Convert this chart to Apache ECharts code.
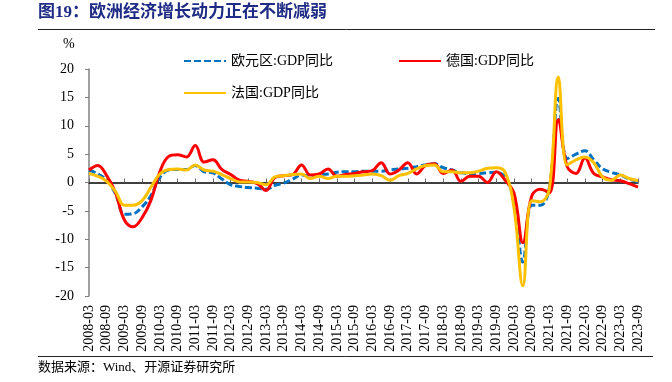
<!DOCTYPE html>
<html><head><meta charset="utf-8">
<script src="https://cdn.jsdelivr.net/npm/echarts@6/dist/echarts.min.js"></script>
<style>html,body{margin:0;padding:0;background:#fff}#c{width:672px;height:382px}</style>
</head><body><div id="c"></div>
<script>
const categories = ["2008-03","2008-06","2008-09","2008-12","2009-03","2009-06","2009-09","2009-12",
"2010-03","2010-06","2010-09","2010-12","2011-03","2011-06","2011-09","2011-12",
"2012-03","2012-06","2012-09","2012-12","2013-03","2013-06","2013-09","2013-12",
"2014-03","2014-06","2014-09","2014-12","2015-03","2015-06","2015-09","2015-12",
"2016-03","2016-06","2016-09","2016-12","2017-03","2017-06","2017-09","2017-12",
"2018-03","2018-06","2018-09","2018-12","2019-03","2019-06","2019-09","2019-12",
"2020-03","2020-06","2020-09","2020-12","2021-03","2021-06","2021-09","2021-12",
"2022-03","2022-06","2022-09","2022-12","2023-03","2023-06","2023-09"];

const euroArea = [2.2,1.5,0.4,-2.0,-5.6,-5.5,-4.3,-2.3,
0.9,2.2,2.3,2.3,3.0,1.9,1.7,0.6,
-0.4,-0.7,-0.9,-1.0,-1.2,-0.5,-0.1,0.6,
1.3,1.2,1.4,1.5,1.8,1.9,1.9,2.0,
2.0,2.0,2.2,2.4,2.5,2.8,3.1,3.3,
2.6,2.2,1.7,1.6,1.6,1.7,1.8,0.9,
-3.1,-14.0,-4.0,-4.0,-0.8,14.8,4.2,5.0,
5.6,4.0,2.4,1.8,1.3,0.6,0.1];

const germany = [2.2,3.0,1.2,-1.8,-6.6,-7.8,-6.2,-3.1,
1.9,4.6,4.9,4.5,6.5,3.6,4.0,2.3,
1.4,0.4,0.2,-0.2,-1.4,0.9,1.2,1.4,
3.1,1.3,1.5,2.4,1.1,1.4,1.6,1.9,
2.1,3.5,1.5,2.2,3.5,1.5,3.0,3.3,
1.6,2.2,0.2,1.1,1.1,0.0,1.9,0.4,
-1.9,-10.6,-2.4,-1.2,-1.8,11.1,2.8,1.6,
4.3,1.6,1.0,0.5,0.3,-0.2,-0.8];

const france = [1.6,1.1,0.2,-1.6,-4.0,-4.0,-3.2,-0.8,
1.5,2.3,2.4,2.2,3.1,2.2,2.0,1.4,
0.7,0.1,0.1,0.0,-0.4,1.0,1.2,1.4,
1.5,0.7,1.1,0.7,1.1,1.1,1.2,1.3,
1.5,1.2,0.4,1.2,1.6,2.4,3.0,3.1,
1.9,1.9,1.7,1.7,2.0,2.5,2.6,1.8,
-4.5,-18.2,-3.2,-3.4,-1.0,18.6,3.1,4.0,
4.5,3.5,1.0,0.4,1.3,0.7,0.3];

const seriesNames = ['欧元区:GDP同比','德国:GDP同比','法国:GDP同比'];
const yTicks = {min:-20, max:20, interval:5};

const serif = '"Liberation Serif","Times New Roman","Noto Sans CJK SC",serif';
const chart = echarts.init(document.getElementById('c'), null, {renderer:'canvas'});
const legendText = {fontSize:14, fontFamily:serif, color:'#000'};
const legendCommon = {itemWidth:42, itemHeight:14, textStyle:legendText,
  itemStyle:{opacity:0, borderWidth:0}};
const option = {
  animation:false,
  backgroundColor:'#fff',
  grid:{left:89, right:34, top:69, bottom:86},
  graphic:[
    {type:'text', left:38, top:4, style:{text:'图19：欧洲经济增长动力正在不断减弱', fill:'#1F2C85', font:'bold 17px "Liberation Serif","Noto Sans CJK SC",serif'}},
    {type:'line', shape:{x1:38, y1:29.5, x2:655, y2:29.5}, style:{stroke:'#222', lineWidth:1}},
    {type:'text', left:63, top:37, style:{text:'%', fill:'#000', font:'14px "Liberation Serif",serif'}},
    {type:'line', shape:{x1:38, y1:356.5, x2:653, y2:356.5}, style:{stroke:'#222', lineWidth:1}},
    {type:'text', left:38, top:361, style:{text:'数据来源：Wind、开源证券研究所', fill:'#000', font:'13px "Liberation Serif","Noto Sans CJK SC",serif'}}
  ],
  legend:[
    Object.assign({data:[seriesNames[0]], left:178, top:49}, legendCommon),
    Object.assign({data:[seriesNames[1]], left:393, top:49}, legendCommon),
    Object.assign({data:[seriesNames[2]], left:178, top:81}, legendCommon)
  ],
  xAxis:[
    {type:'category', data:categories, boundaryGap:false,
     axisLine:{show:false, onZero:false}, axisTick:{show:false},
     axisLabel:{interval:1, rotate:90, fontSize:14, fontFamily:serif, color:'#000', margin:9}},
    {type:'category', data:categories, boundaryGap:false, position:'bottom',
     axisLine:{show:true, onZero:true, onZeroAxisIndex:0, lineStyle:{color:'#000', width:1.5}},
     axisTick:{show:true, inside:true, interval:1, length:4, lineStyle:{color:'#666', width:1}},
     axisLabel:{show:false}}
  ],
  yAxis:{type:'value', min:yTicks.min, max:yTicks.max, interval:yTicks.interval,
    axisLine:{show:true, onZero:false, lineStyle:{color:'#808080', width:1.5}},
    axisTick:{show:true, length:4, lineStyle:{color:'#808080'}},
    splitLine:{show:false},
    axisLabel:{margin:15, fontSize:14, fontFamily:serif, color:'#000'}},
  series:[
    {name:seriesNames[0], type:'line', data:euroArea, symbol:'none', smooth:0.4,
     lineStyle:{color:'#0070C0', width:3, type:[7,3]}, itemStyle:{color:'#0070C0'}},
    {name:seriesNames[1], type:'line', data:germany, symbol:'none', smooth:0.4,
     lineStyle:{color:'#FF0000', width:3}, itemStyle:{color:'#FF0000'}},
    {name:seriesNames[2], type:'line', data:france, symbol:'none', smooth:0.4,
     lineStyle:{color:'#FFC000', width:3}, itemStyle:{color:'#FFC000'}}
  ]
};
chart.setOption(option);
</script></body></html>
